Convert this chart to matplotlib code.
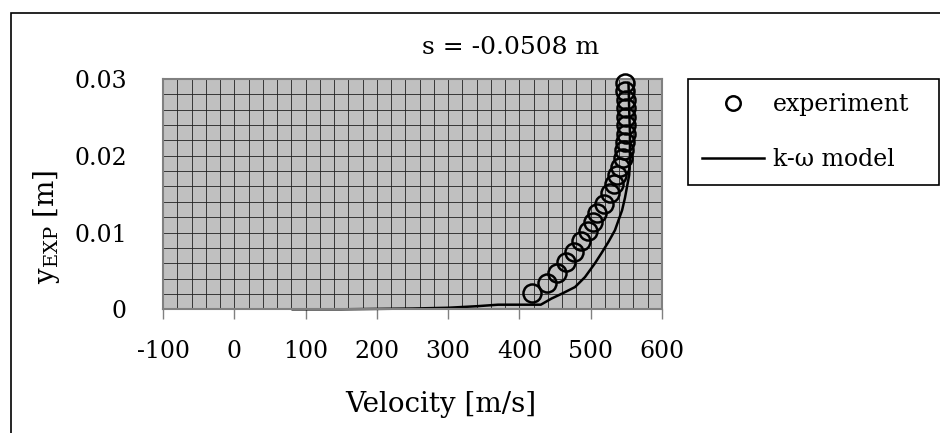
import numpy as np
import matplotlib
matplotlib.use('Agg')
import matplotlib.pyplot as plt
from matplotlib.patches import Rectangle
from matplotlib.ticker import MultipleLocator

plt.rcParams['font.family'] = 'DejaVu Serif'
plt.rcParams['mathtext.fontset'] = 'dejavuserif'
plt.rcParams['axes.unicode_minus'] = False

# experiment: velocity [m/s] and y position [m]
exp_v = [417, 439, 453, 466, 476, 487, 496, 503, 509, 518, 527, 532, 537, 541,
         545, 547, 548, 549, 549, 549, 549, 549, 548, 548]
exp_y = [0.0021, 0.0034, 0.0047, 0.0061, 0.0075, 0.0089, 0.0102, 0.0114, 0.0126,
         0.0137, 0.0151, 0.0163, 0.0175, 0.0186, 0.0197, 0.0208, 0.0218, 0.0229,
         0.0240, 0.0251, 0.0262, 0.0273, 0.0284, 0.0295]

# k-omega model
model_v = [82, 150, 200, 250, 300, 340, 370, 400, 430, 445, 461, 478, 492, 506,
           515, 525, 534, 539, 544, 548, 551, 554, 555, 555, 554, 553]
model_y = [0.0, 0.0, 0.00005, 0.0001, 0.0002, 0.0004, 0.0006, 0.0006, 0.0006,
           0.0014, 0.0021, 0.0029, 0.0042, 0.0060, 0.0073, 0.0088, 0.0103, 0.0116,
           0.0129, 0.0145, 0.0160, 0.0175, 0.0200, 0.0230, 0.0260, 0.0295]

W, H = 940, 433
fig = plt.figure(figsize=(W / 100, H / 100), dpi=100)
ax = fig.add_axes([163 / W, 1 - 309.3 / H, 499 / W, 230.3 / H])

# outer chart border
fig.add_artist(Rectangle((11 / W, -0.2), 2, 1.2 - 13 / H, transform=fig.transFigure,
                         fill=False, edgecolor='black', lw=1.2, clip_on=False))

ax.set_facecolor('#c0c0c0')
ax.set_xlim(-100, 600)
ax.set_ylim(0, 0.03)
ax.xaxis.set_major_locator(MultipleLocator(100))
ax.xaxis.set_minor_locator(MultipleLocator(20))
ax.yaxis.set_major_locator(MultipleLocator(0.01))
ax.yaxis.set_minor_locator(MultipleLocator(0.002))
ax.yaxis.set_major_formatter(plt.FuncFormatter(lambda v, p: '0' if v == 0 else f'{v:.2f}'))
ax.grid(True, which='both', color='#202020', lw=0.6)
ax.set_axisbelow(True)
for s in ax.spines.values():
    s.set_color('#808080')
    s.set_linewidth(1.5)

ax.tick_params(axis='x', which='major', length=7, width=1, color='#808080',
               labelsize=17, pad=15)
ax.tick_params(axis='x', which='minor', length=0)
ax.tick_params(axis='y', which='both', length=0, labelsize=17, pad=26)

ax.plot(model_v, model_y, color='black', lw=1.8, label='k-\u03c9 model', clip_on=False)
ax.plot(exp_v, exp_y, 'o', ms=13, mfc='none', mec='black', mew=1.8,
        label='experiment', clip_on=False, zorder=3)

handles, labels = ax.get_legend_handles_labels()
leg = fig.legend(handles[::-1], labels[::-1], loc='upper left',
                 bbox_to_anchor=(688 / W, 1 - 188 / H, 251 / W, 109 / H), mode='expand',
                 fontsize=17, frameon=True, fancybox=False, edgecolor='black',
                 framealpha=1, handlelength=2.6, handletextpad=0.4, labelspacing=1.35,
                 borderpad=0.6, borderaxespad=0, markerscale=0.8)
leg.get_frame().set_linewidth(1.2)

fig.text(511 / W, 1 - 47 / H, 's = -0.0508 m', ha='center', va='center', fontsize=18)
fig.text(441 / W, 1 - 404 / H, 'Velocity [m/s]', ha='center', va='center', fontsize=20)
fig.text(46 / W, 1 - 227 / H, r'$\mathrm{y_{EXP}}$ [m]', ha='center', va='center',
         rotation=90, fontsize=20)

fig.savefig('out.png', dpi=100)
